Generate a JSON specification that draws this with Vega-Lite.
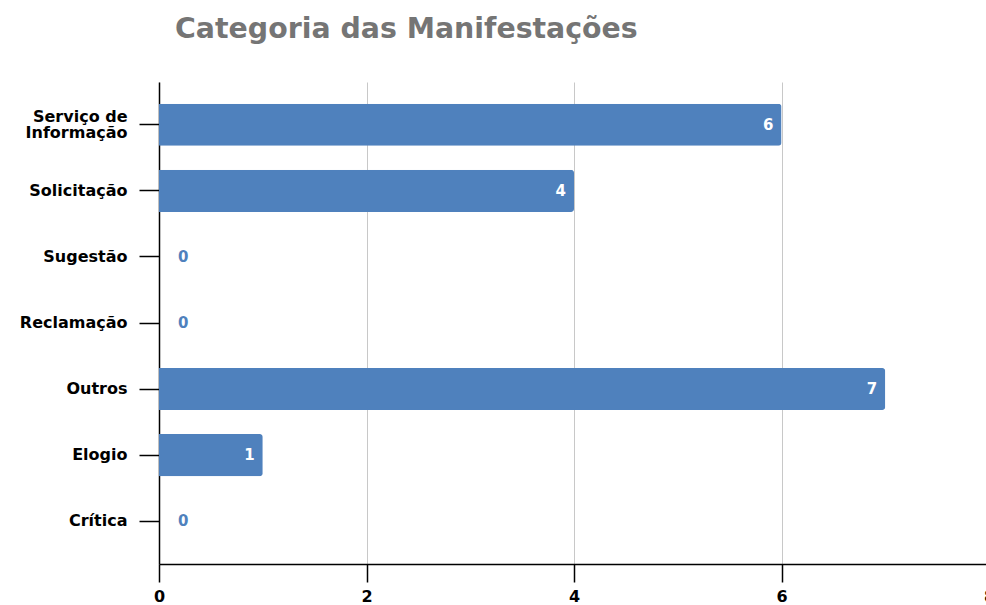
{
  "$schema": "https://vega.github.io/schema/vega-lite/v6.json",
  "width": 830,
  "height": 482,
  "autosize": {"type": "none"},
  "padding": {"left": 159, "top": 82, "right": 0, "bottom": 41},
  "background": "white",
  "title": {
    "text": "Categoria das Manifestações",
    "font": "DejaVu Sans",
    "fontSize": 28.4,
    "fontWeight": "bold",
    "color": "#757575",
    "anchor": "start",
    "frame": "group",
    "dx": 16,
    "offset": 38
  },
  "data": {
    "values": [
      {"categoria": "Serviço de Informação", "quantidade": 6},
      {"categoria": "Solicitação", "quantidade": 4},
      {"categoria": "Sugestão", "quantidade": 0},
      {"categoria": "Reclamação", "quantidade": 0},
      {"categoria": "Outros", "quantidade": 7},
      {"categoria": "Elogio", "quantidade": 1},
      {"categoria": "Crítica", "quantidade": 0}
    ]
  },
  "config": {
    "view": {"stroke": null},
    "font": "DejaVu Sans"
  },
  "encoding": {
    "y": {
      "field": "categoria",
      "type": "nominal",
      "sort": null,
      "title": null,
      "scale": {"paddingInner": 0.364, "paddingOuter": 0.33},
      "axis": {
        "domainColor": "#000000",
        "domainWidth": 1.5,
        "tickColor": "#000000",
        "tickSize": 20,
        "tickWidth": 1.5,
        "labelPadding": 12,
        "labelFont": "DejaVu Sans",
        "labelFontSize": 16,
        "labelFontWeight": "bold",
        "labelColor": "#000000",
        "labelLineHeight": 16,
        "labelOffset": {"condition": {"test": "datum.value == 'Serviço de Informação'", "value": -8}, "value": 0},
        "labelExpr": "datum.value == 'Serviço de Informação' ? ['Serviço de', 'Informação'] : datum.label"
      }
    },
    "x": {
      "field": "quantidade",
      "type": "quantitative",
      "title": null,
      "scale": {"domain": [0, 8], "nice": false},
      "axis": {
        "values": [0, 2, 4, 6, 8],
        "grid": true,
        "gridColor": "#c8c8c8",
        "gridWidth": 1,
        "domainColor": "#000000",
        "domainWidth": 1.5,
        "tickColor": "#000000",
        "tickSize": 18,
        "tickWidth": 1.5,
        "labelPadding": 6,
        "labelFont": "DejaVu Sans",
        "labelFontSize": 16,
        "labelFontWeight": "bold",
        "labelColor": "#000000",
        "labelFlush": false,
        "labelOverlap": false
      }
    }
  },
  "layer": [
    {
      "mark": {"type": "bar", "color": "#4F81BD", "cornerRadiusEnd": 3}
    },
    {
      "transform": [{"filter": "datum.quantidade > 0"}],
      "mark": {
        "type": "text",
        "align": "right",
        "baseline": "middle",
        "dx": -8,
        "color": "#ffffff",
        "font": "DejaVu Sans",
        "fontSize": 15,
        "fontWeight": "bold"
      },
      "encoding": {"text": {"field": "quantidade", "type": "quantitative"}}
    },
    {
      "transform": [{"filter": "datum.quantidade == 0"}],
      "mark": {
        "type": "text",
        "align": "left",
        "baseline": "middle",
        "dx": 19,
        "color": "#4F81BD",
        "font": "DejaVu Sans",
        "fontSize": 15,
        "fontWeight": "bold"
      },
      "encoding": {"text": {"field": "quantidade", "type": "quantitative"}}
    }
  ]
}
